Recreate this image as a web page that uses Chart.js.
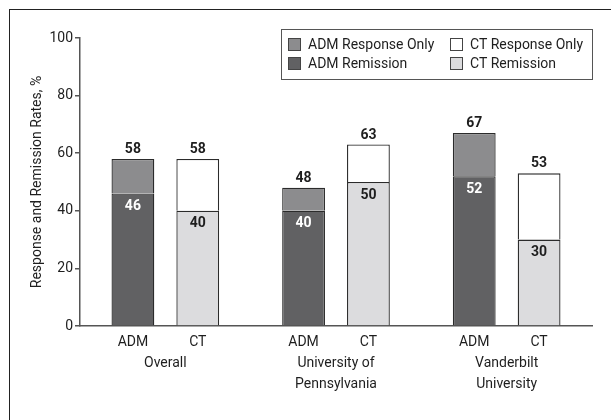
<!DOCTYPE html>
<html lang="en">
<head>
  <meta charset="UTF-8">
  <title>Response and Remission Rates</title>
  <style>
    body {
      margin: 0;
      padding: 0;
      background: #fff;
      overflow: hidden;
    }

    .wrap {
      position: relative;
      width: 611px;
      height: 420px;
    }

    /* cropped outer frame, only top and left edges visible */
    .frame {
      position: absolute;
      left: 9px;
      top: 9px;
      width: 700px;
      height: 500px;
      border-top: 1.5px solid #222;
      border-left: 1.5px solid #222;
      pointer-events: none;
    }
  </style>
</head>
<body>
  <div class="wrap">
    <canvas id="rateChart" width="611" height="420"></canvas>
    <div class="frame"></div>
  </div>

  <script src="https://cdn.jsdelivr.net/npm/chart.js"></script>
  <script>
    // Data
    const categories = ['Overall', ['University of', 'Pennsylvania'], ['Vanderbilt', 'University']];
    const admRemission = [46, 40, 52];
    const admResponse = [58, 48, 67];   // total response (remission + response only)
    const ctRemission = [40, 50, 30];
    const ctResponse = [58, 63, 53];
    const yTicks = [0, 20, 40, 60, 80, 100];

    const FONT = "Roboto, 'Liberation Sans', Arial, sans-serif";
    const ink = '#1e1e1e';

    // "Response only" part is the gap between total response and remission
    const admOnly = admResponse.map((v, i) => v - admRemission[i]);
    const ctOnly = ctResponse.map((v, i) => v - ctRemission[i]);

    // labels under each bar, value labels, legend
    const annotate = {
      id: 'annotate',
      afterDatasetsDraw(chart) {
        const ctx = chart.ctx;
        const bottom = chart.chartArea.bottom;
        ctx.save();
        ctx.textAlign = 'center';

        // group labels (ADM / CT) under bars
        ctx.font = '14px ' + FONT;
        ctx.fillStyle = ink;
        ctx.textBaseline = 'top';
        [[0, 'ADM'], [2, 'CT']].forEach(([di, txt]) => {
          chart.getDatasetMeta(di).data.forEach(bar => {
            ctx.fillText(txt, bar.x, bottom + 9);
          });
        });

        // values
        ctx.font = 'bold 14px ' + FONT;
        const sets = [
          { rem: 0, top: 1, remVals: admRemission, totVals: admResponse, remColor: '#fff' },
          { rem: 2, top: 3, remVals: ctRemission, totVals: ctResponse, remColor: ink }
        ];
        sets.forEach(s => {
          const remMeta = chart.getDatasetMeta(s.rem).data;
          const topMeta = chart.getDatasetMeta(s.top).data;
          remMeta.forEach((bar, i) => {
            ctx.fillStyle = s.remColor;
            ctx.textBaseline = 'middle';
            ctx.fillText(s.remVals[i], bar.x, bar.y + 13);
            ctx.fillStyle = ink;
            ctx.textBaseline = 'alphabetic';
            ctx.fillText(s.totVals[i], topMeta[i].x, topMeta[i].y - 6);
          });
        });

        // legend box, two columns
        ctx.strokeStyle = '#555';
        ctx.lineWidth = 1;
        ctx.strokeRect(281.5, 29.5, 311, 50);
        const order = [1, 3, 0, 2];
        const cols = [288, 450];
        const rows = [38, 57];
        ctx.font = '14px ' + FONT;
        ctx.textAlign = 'left';
        ctx.textBaseline = 'middle';
        order.forEach((di, k) => {
          const ds = chart.data.datasets[di];
          const x = cols[k % 2];
          const y = rows[Math.floor(k / 2)];
          ctx.fillStyle = ds.backgroundColor;
          ctx.fillRect(x, y, 13, 13);
          ctx.strokeStyle = '#444';
          ctx.strokeRect(x + 0.5, y + 0.5, 12, 12);
          ctx.fillStyle = ink;
          ctx.fillText(ds.label, x + 20, y + 7);
        });
        ctx.restore();
      }
    };

    const barStyle = {
      borderColor: '#2b2b2b',
      borderWidth: 1.3,
      categoryPercentage: 0.76,
      barPercentage: 0.66
    };

    new Chart(document.getElementById('rateChart'), {
      type: 'bar',
      data: {
        labels: categories,
        datasets: [
          { label: 'ADM Remission', data: admRemission, stack: 'ADM', backgroundColor: '#616163', ...barStyle },
          { label: 'ADM Response Only', data: admOnly, stack: 'ADM', backgroundColor: '#8c8c8e', ...barStyle },
          { label: 'CT Remission', data: ctRemission, stack: 'CT', backgroundColor: '#dcdcde', ...barStyle },
          { label: 'CT Response Only', data: ctOnly, stack: 'CT', backgroundColor: '#ffffff', ...barStyle }
        ]
      },
      options: {
        responsive: false,
        animation: false,
        layout: {
          padding: { top: 38, right: 19, left: 29, bottom: 0 }
        },
        plugins: {
          legend: { display: false },
          tooltip: { enabled: false }
        },
        scales: {
          x: {
            stacked: true,
            grid: { display: false },
            border: { display: true, color: '#555', width: 1.5 },
            ticks: {
              color: ink,
              font: { family: FONT, size: 14, lineHeight: 1.5 },
              padding: 19,
              maxRotation: 0
            },
            afterFit(scale) { scale.height = 94; }
          },
          y: {
            stacked: true,
            min: 0,
            max: 100,
            afterBuildTicks(scale) { scale.ticks = yTicks.map(v => ({ value: v })); },
            grid: { drawOnChartArea: false, drawTicks: true, tickLength: 5, color: '#555', lineWidth: 1.5 },
            border: { display: true, color: '#555', width: 1.5 },
            ticks: {
              color: ink,
              font: { family: FONT, size: 14 },
              padding: 2
            },
            title: {
              display: true,
              text: 'Response and Remission Rates, %',
              color: ink,
              font: { family: FONT, size: 14 },
              padding: 0
            },
            afterFit(scale) { scale.width = 51; }
          }
        }
      },
      plugins: [annotate]
    });
  </script>
</body>
</html>
